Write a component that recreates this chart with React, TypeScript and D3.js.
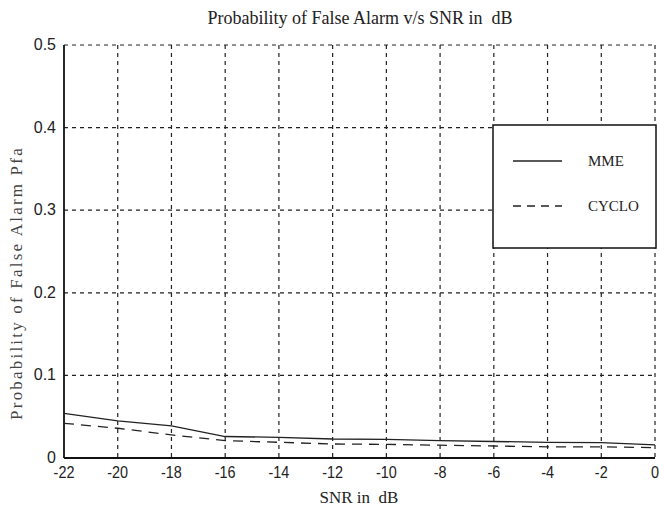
import { useEffect, useRef } from 'react';
import * as d3 from 'd3';

const snr = [-22, -20, -18, -16, -14, -12, -10, -8, -6, -4, -2, 0];
const mme = [0.054, 0.045, 0.039, 0.026, 0.025, 0.023, 0.0225, 0.021, 0.02, 0.019, 0.0185, 0.016];
const cyclo = [0.042, 0.036, 0.028, 0.021, 0.019, 0.017, 0.0165, 0.0155, 0.0145, 0.0135, 0.0135, 0.0125];
const xTicks = [-22, -20, -18, -16, -14, -12, -10, -8, -6, -4, -2, 0];
const yTicks = [0, 0.1, 0.2, 0.3, 0.4, 0.5];
const seriesNames = ['MME', 'CYCLO'];

export default function App() {
  const svgRef = useRef<SVGSVGElement>(null);

  useEffect(() => {
    if (!svgRef.current) return;
    const width = 659;
    const height = 511;
    const margin = { top: 45, right: 4, bottom: 53, left: 64 };
    const innerWidth = width - margin.left - margin.right;
    const innerHeight = height - margin.top - margin.bottom;

    const svg = d3.select(svgRef.current);
    svg.selectAll('*').remove();

    svg.append('rect').attr('width', width).attr('height', height).attr('fill', '#fff');

    const x = d3.scaleLinear().domain([-22, 0]).range([0, innerWidth]);
    const y = d3.scaleLinear().domain([0, 0.5]).range([innerHeight, 0]);

    const g = svg.append('g').attr('transform', `translate(${margin.left},${margin.top})`);

    // dotted grid
    g.selectAll('.vgrid')
      .data(xTicks.slice(1))
      .enter()
      .append('line')
      .attr('x1', d => x(d)).attr('x2', d => x(d))
      .attr('y1', 0).attr('y2', innerHeight)
      .attr('stroke', '#222').attr('stroke-width', 1.2)
      .attr('stroke-dasharray', '4,4');
    g.selectAll('.hgrid')
      .data(yTicks.slice(1))
      .enter()
      .append('line')
      .attr('x1', 0).attr('x2', innerWidth)
      .attr('y1', d => y(d)).attr('y2', d => y(d))
      .attr('stroke', '#222').attr('stroke-width', 1.2)
      .attr('stroke-dasharray', '4,4');

    // solid left and bottom axes
    g.append('line').attr('x1', 0).attr('x2', 0).attr('y1', 0).attr('y2', innerHeight)
      .attr('stroke', '#111').attr('stroke-width', 1.8);
    g.append('line').attr('x1', 0).attr('x2', innerWidth).attr('y1', innerHeight).attr('y2', innerHeight)
      .attr('stroke', '#111').attr('stroke-width', 1.8);

    // tick labels
    g.selectAll('.xt')
      .data(xTicks)
      .enter()
      .append('text')
      .attr('x', d => x(d))
      .attr('y', innerHeight + 20)
      .attr('text-anchor', 'middle')
      .attr('font-family', 'Liberation Sans, Arial, sans-serif')
      .attr('font-size', 16)
      .attr('fill', '#222')
      .attr('transform', d => `translate(${x(d)},0) scale(0.9,1) translate(${-x(d)},0)`)
      .text(d => String(d));
    g.selectAll('.yt')
      .data(yTicks)
      .enter()
      .append('text')
      .attr('x', -8)
      .attr('y', d => y(d) + 5)
      .attr('text-anchor', 'end')
      .attr('font-family', 'Liberation Sans, Arial, sans-serif')
      .attr('font-size', 16)
      .attr('fill', '#222')
      .text(d => (d === 0 ? '0' : d.toFixed(1)));

    const line = d3.line<number>()
      .x((_, i) => x(snr[i]))
      .y(d => y(d));

    g.append('path').attr('d', line(mme)).attr('fill', 'none')
      .attr('stroke', '#222').attr('stroke-width', 1.3);
    g.append('path').attr('d', line(cyclo)).attr('fill', 'none')
      .attr('stroke', '#222').attr('stroke-width', 1.3).attr('stroke-dasharray', '10,7');

    // legend
    const lx = 493 - margin.left;
    const ly = 125 - margin.top;
    g.append('rect').attr('x', lx).attr('y', ly).attr('width', 163).attr('height', 123)
      .attr('fill', '#fff').attr('stroke', '#111').attr('stroke-width', 1.5);
    seriesNames.forEach((name, i) => {
      const yy = ly + 36 + i * 45;
      g.append('line').attr('x1', lx + 20).attr('x2', lx + 69).attr('y1', yy).attr('y2', yy)
        .attr('stroke', '#222').attr('stroke-width', 1.3)
        .attr('stroke-dasharray', i === 1 ? '8,6' : null);
      g.append('text').attr('x', lx + 95).attr('y', yy + 5)
        .attr('font-family', 'Liberation Serif, Times New Roman, serif')
        .attr('font-size', 15).attr('fill', '#222').text(name);
    });

    // titles
    svg.append('text').attr('x', 360).attr('y', 24).attr('text-anchor', 'middle')
      .attr('font-family', 'Liberation Serif, Times New Roman, serif')
      .attr('font-size', 18).attr('fill', '#222')
      .style('white-space', 'pre')
      .text('Probability of False Alarm v/s SNR in  dB');
    svg.append('text').attr('x', 359).attr('y', 503).attr('text-anchor', 'middle')
      .attr('font-family', 'Liberation Serif, Times New Roman, serif')
      .attr('font-size', 17).attr('fill', '#222')
      .style('white-space', 'pre')
      .text('SNR in  dB');
    svg.append('text')
      .attr('transform', `translate(22,${283}) rotate(-90)`)
      .attr('text-anchor', 'middle')
      .attr('font-family', 'Liberation Serif, Times New Roman, serif')
      .attr('font-size', 17).attr('letter-spacing', 2.2).attr('fill', '#444')
      .text('Probability of False Alarm Pfa');
  }, []);

  return (
    <svg
      ref={svgRef}
      width={659}
      height={511}
      style={{ display: 'block', position: 'absolute', left: 0, top: 0 }}
    />
  );
}
